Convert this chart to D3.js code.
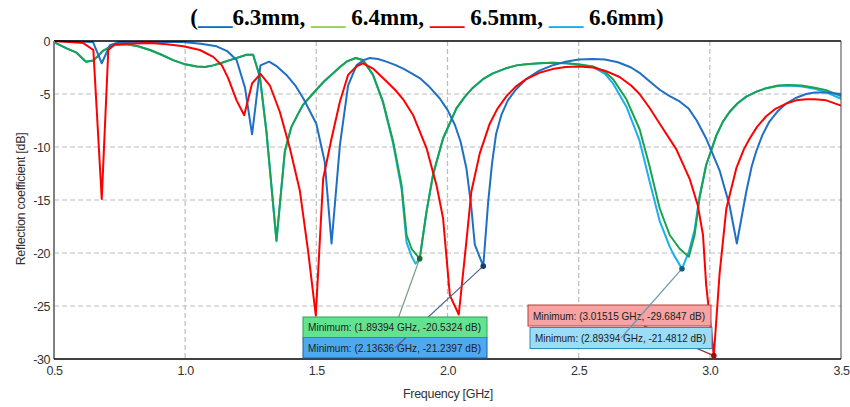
<!DOCTYPE html>
<html>
<head>
<meta charset="utf-8">
<script src="https://cdn.jsdelivr.net/npm/d3@7"></script>
<style>
  body { margin: 0; background: #fff; }
  svg { display: block; }
  .tick text { font-family: "Liberation Sans", Arial, sans-serif; font-size: 12.5px; fill: #333; }
</style>
</head>
<body>
<svg id="chart" width="850" height="407"></svg>
<script>
// plain hyphen for negative numbers, like the original
d3.formatDefaultLocale({ decimal: ".", thousands: ",", grouping: [3], currency: ["$", ""], minus: "-" });

// series names and colours
const seriesNames = ["6.3mm", "6.4mm", "6.5mm", "6.6mm"];
const legendColors = ["#0070C0", "#92D050", "#FF0000", "#00B0F0"];

// [frequency GHz, reflection dB]
const s63 = [[0.5, 0], [0.649, -0.1], [0.682, -2.1], [0.713, -0.4], [0.75, -0.1], [0.99, -0.1], [1.06, -0.25], [1.12, -0.5], [1.16, -0.95], [1.196, -1.8], [1.228, -4.4], [1.255, -8.8], [1.287, -2.3], [1.32, -1.95], [1.35, -2.4], [1.386, -3.2], [1.42, -4.2], [1.45, -5.4], [1.5, -7.8], [1.532, -11.4], [1.558, -19.1], [1.59, -9.8], [1.621, -4.2], [1.653, -2.3], [1.68, -1.8], [1.704, -1.6], [1.735, -1.7], [1.767, -1.95], [1.8, -2.25], [1.831, -2.6], [1.86, -3.0], [1.894, -3.5], [1.93, -4.3], [1.97, -5.4], [2.0, -6.5], [2.028, -7.9], [2.05, -9.5], [2.072, -12], [2.09, -15.5], [2.104, -19.2], [2.13636, -21.2397], [2.155, -15.2], [2.17, -11.5], [2.185, -8.8], [2.205, -7.0], [2.23, -5.6], [2.26, -4.6], [2.3, -3.6], [2.35, -2.8], [2.4, -2.3], [2.45, -1.95], [2.5, -1.75], [2.555, -1.7], [2.6, -1.75], [2.65, -2.0], [2.7, -2.5], [2.732, -3.0], [2.77, -3.8], [2.809, -4.6], [2.847, -5.2], [2.885, -5.7], [2.92, -6.4], [2.95, -7.5], [2.986, -9.2], [3.01, -10.6], [3.037, -12.2], [3.075, -15.5], [3.103, -19.1], [3.139, -14.2], [3.16, -11.8], [3.177, -10.4], [3.2, -8.9], [3.227, -7.6], [3.26, -6.6], [3.291, -5.9], [3.33, -5.35], [3.367, -5.0], [3.4, -4.85], [3.444, -4.85], [3.5, -5.0]];

const s64 = [[0.5, -0.1], [0.548, -0.7], [0.586, -1.1], [0.622, -1.95], [0.65, -1.85], [0.688, -0.9], [0.726, -0.4], [0.777, -0.3], [0.82, -0.5], [0.866, -0.85], [0.91, -1.3], [0.954, -1.8], [1.0, -2.2], [1.044, -2.4], [1.075, -2.45], [1.107, -2.3], [1.14, -2.05], [1.17, -1.8], [1.234, -1.3], [1.259, -1.3], [1.285, -3.4], [1.31, -8.6], [1.348, -18.8], [1.38, -10.4], [1.405, -8.1], [1.43, -6.9], [1.45, -6.0], [1.5, -4.6], [1.53, -3.8], [1.564, -3.05], [1.59, -2.45], [1.615, -1.95], [1.65, -1.6], [1.678, -1.8], [1.716, -3.2], [1.754, -5.7], [1.793, -9.5], [1.825, -13.6], [1.844, -18.3], [1.863, -19.6], [1.89394, -20.5324], [1.92, -16.1], [1.945, -12.6], [1.983, -9.2], [2.034, -6.35], [2.065, -5.3], [2.097, -4.4], [2.135, -3.6], [2.173, -3.05], [2.22, -2.6], [2.263, -2.3], [2.3, -2.2], [2.351, -2.1], [2.4, -2.05], [2.453, -2.1], [2.5, -2.2], [2.555, -2.4], [2.6, -2.9], [2.631, -3.6], [2.682, -5.5], [2.732, -8.3], [2.77, -11.8], [2.809, -15.8], [2.847, -18.3], [2.885, -19.6], [2.92, -20.35], [2.942, -18.3], [2.961, -14.8], [2.986, -11.7], [3.025, -8.9], [3.05, -7.6], [3.075, -6.7], [3.105, -5.9], [3.139, -5.25], [3.18, -4.75], [3.215, -4.45], [3.26, -4.2], [3.3, -4.15], [3.35, -4.2], [3.4, -4.4], [3.444, -4.65], [3.5, -5.2]];

const s65 = [[0.5, 0], [0.612, -0.2], [0.65, -0.85], [0.682, -14.9], [0.707, -0.85], [0.732, -0.3], [0.866, -0.2], [0.93, -0.3], [0.993, -0.5], [1.056, -0.85], [1.107, -1.5], [1.14, -2.3], [1.164, -3.5], [1.196, -5.6], [1.225, -7.0], [1.255, -4.0], [1.287, -3.1], [1.323, -4.2], [1.361, -6.7], [1.399, -10.1], [1.437, -14.1], [1.469, -19.9], [1.498, -25.9], [1.526, -13], [1.558, -9.2], [1.59, -5.7], [1.621, -3.2], [1.653, -2.4], [1.678, -2.1], [1.716, -2.6], [1.767, -3.8], [1.8, -4.6], [1.831, -5.5], [1.869, -7.0], [1.92, -10.1], [1.958, -13.6], [1.983, -16.7], [2.009, -24], [2.043, -25.8], [2.072, -18.9], [2.091, -14.2], [2.123, -10.6], [2.161, -7.8], [2.19, -6.4], [2.225, -5.2], [2.26, -4.3], [2.3, -3.6], [2.35, -3.0], [2.4, -2.65], [2.45, -2.45], [2.5, -2.4], [2.555, -2.5], [2.6, -2.8], [2.656, -3.4], [2.7, -4.2], [2.732, -5.0], [2.77, -6.3], [2.809, -7.8], [2.872, -10.2], [2.923, -13], [2.954, -15.5], [2.974, -18.3], [2.986, -23], [3.01515, -29.6847], [3.037, -22], [3.063, -15.8], [3.101, -12], [3.13, -10.2], [3.152, -9.2], [3.18, -8.1], [3.215, -7.1], [3.25, -6.4], [3.291, -5.9], [3.33, -5.6], [3.367, -5.5], [3.4, -5.5], [3.444, -5.6], [3.5, -6.1]];

const s66 = [[0.5, -0.1], [0.548, -0.7], [0.586, -1.1], [0.622, -1.95], [0.65, -1.85], [0.688, -0.9], [0.726, -0.4], [0.777, -0.3], [0.82, -0.5], [0.866, -0.85], [0.91, -1.3], [0.954, -1.8], [1.0, -2.2], [1.044, -2.4], [1.075, -2.45], [1.107, -2.3], [1.14, -2.05], [1.17, -1.8], [1.234, -1.3], [1.259, -1.3], [1.285, -3.4], [1.31, -8.6], [1.348, -18.9], [1.38, -10.4], [1.405, -8.1], [1.43, -6.9], [1.45, -6.0], [1.5, -4.6], [1.53, -3.8], [1.564, -3.05], [1.59, -2.45], [1.615, -1.95], [1.65, -1.6], [1.678, -1.8], [1.716, -3.2], [1.754, -5.8], [1.793, -9.7], [1.825, -14.0], [1.844, -19.0], [1.863, -20.3], [1.878, -21.0], [1.89394, -20.6], [1.92, -16.1], [1.945, -12.6], [1.983, -9.2], [2.034, -6.35], [2.065, -5.3], [2.097, -4.4], [2.135, -3.6], [2.173, -3.05], [2.22, -2.6], [2.263, -2.3], [2.3, -2.2], [2.351, -2.1], [2.4, -2.05], [2.453, -2.1], [2.5, -2.25], [2.555, -2.45], [2.6, -3.1], [2.631, -4.0], [2.682, -6.2], [2.732, -9.4], [2.77, -13.2], [2.809, -17.0], [2.847, -19.4], [2.863, -20.2], [2.89394, -21.4812], [2.92, -19.9], [2.942, -17.8], [2.961, -14.6], [2.986, -11.7], [3.025, -8.9], [3.05, -7.6], [3.075, -6.7], [3.105, -5.9], [3.139, -5.25], [3.18, -4.75], [3.215, -4.45], [3.26, -4.25], [3.3, -4.2], [3.35, -4.3], [3.4, -4.5], [3.444, -4.85], [3.5, -5.45]];

// marked minima (6.4, 6.3, 6.5, 6.6)
const minFreq = [1.89394, 2.13636, 3.01515, 2.89394];
const minDb = [-20.5324, -21.2397, -29.6847, -21.4812];

// tick labels
const xTicks = [0.5, 1.0, 1.5, 2.0, 2.5, 3.0, 3.5];
const yTicks = [0, -5, -10, -15, -20, -25, -30];

const plotLeft = 54, plotRight = 841, plotTop = 41, plotBottom = 359;
const svg = d3.select("#chart");

const x = d3.scaleLinear().domain([0.5, 3.5]).range([plotLeft, plotRight]);
const y = d3.scaleLinear().domain([-30, 0]).range([plotBottom, plotTop]);

// title with coloured dashes
const title = svg.append("text")
  .attr("x", 427)
  .attr("y", 25)
  .attr("text-anchor", "middle")
  .style("font-family", "'Liberation Serif', 'Times New Roman', serif")
  .style("font-weight", "bold")
  .style("font-size", "23px")
  .style("fill", "#000");
title.append("tspan").text("(");
seriesNames.forEach((name, i) => {
  title.append("tspan").style("fill", legendColors[i]).text("___");
  const sep = i === seriesNames.length - 1 ? ")" : ", ";
  title.append("tspan").text((i === 0 ? "" : " ") + name + sep);
});

// grid
const grid = svg.append("g").attr("class", "grid");
grid.selectAll("line.gx")
  .data(xTicks.slice(1, -1))
  .join("line")
  .attr("class", "gx")
  .attr("x1", (d) => x(d))
  .attr("x2", (d) => x(d))
  .attr("y1", plotTop)
  .attr("y2", plotBottom);
grid.selectAll("line.gy")
  .data(yTicks.slice(1, -1))
  .join("line")
  .attr("class", "gy")
  .attr("x1", plotLeft)
  .attr("x2", plotRight)
  .attr("y1", (d) => y(d))
  .attr("y2", (d) => y(d));
grid.selectAll("line")
  .style("stroke", "#bdbdbd")
  .style("stroke-width", 1.2)
  .style("stroke-dasharray", "5,3");

// axes
const xAxis = svg.append("g")
  .attr("transform", `translate(0, ${plotBottom})`)
  .call(d3.axisBottom(x).tickValues(xTicks).tickFormat(d3.format(".1f")).tickSize(0).tickPadding(7));
xAxis.select(".domain").remove();
xAxis.selectAll("text").style("letter-spacing", "-0.4px");

const yAxis = svg.append("g")
  .attr("transform", `translate(${plotLeft}, 0)`)
  .call(d3.axisLeft(y).tickValues(yTicks).tickFormat(d3.format("d")).tickSize(0).tickPadding(4));
yAxis.select(".domain").remove();
yAxis.selectAll("text").style("letter-spacing", "-0.4px");

// curves
const series = [
  { data: s66, color: "#1ab0ec" },
  { data: s64, color: "#1ba24f" },
  { data: s63, color: "#1f6fc4" },
  { data: s65, color: "#ff0000" }
];
const line = d3.line().x((d) => x(d[0])).y((d) => y(d[1]));
const plot = svg.append("g");
series.forEach((s) => {
  plot.append("path")
    .datum(s.data)
    .attr("d", line)
    .style("fill", "none")
    .style("stroke", s.color)
    .style("stroke-width", 2)
    .style("stroke-linejoin", "round");
});

// frame
const frame = svg.append("g");
frame.append("line").attr("x1", plotLeft).attr("x2", plotRight).attr("y1", plotTop).attr("y2", plotTop)
  .style("stroke", "#000").style("stroke-width", 1.3);
frame.append("line").attr("x1", plotRight).attr("x2", plotRight).attr("y1", plotTop).attr("y2", plotBottom)
  .style("stroke", "#444").style("stroke-width", 1);
frame.append("line").attr("x1", plotLeft).attr("x2", plotLeft).attr("y1", plotTop).attr("y2", plotBottom)
  .style("stroke", "#808080").style("stroke-width", 2);
frame.append("line").attr("x1", plotLeft).attr("x2", plotRight).attr("y1", plotBottom).attr("y2", plotBottom)
  .style("stroke", "#000").style("stroke-width", 1.5);

// minimum markers with boxes
const boxes = [
  { x: 303, y: 317, w: 184, h: 20.5, fill: "#62e38f", stroke: "#2f9e55", lineColor: "#6f9c80", dot: "#176b35" },
  { x: 303, y: 337.5, w: 184, h: 20.5, fill: "#4ea9f1", stroke: "#1d5c9c", lineColor: "#4a6690", dot: "#173f6b" },
  { x: 528, y: 305, w: 183, h: 21, fill: "#f6a3a3", stroke: "#c03a3a", lineColor: "#a03030", dot: "#9a0d0d" },
  { x: 530, y: 327.5, w: 182, h: 21, fill: "#9bdcf7", stroke: "#2a8db3", lineColor: "#6d98ac", dot: "#15607a" }
];
const fmt = d3.format(".4f");
const note = svg.append("g");
const drawOrder = [1, 0, 2, 3];
drawOrder.forEach((i) => {
  const b = boxes[i];
  const cx = b.x + b.w / 2, cy = b.y + b.h / 2;
  const px = x(minFreq[i]), py = y(minDb[i]);
  note.append("rect")
    .attr("x", b.x).attr("y", b.y).attr("width", b.w).attr("height", b.h)
    .style("fill", b.fill).style("stroke", b.stroke).style("stroke-width", 1);
  note.append("text")
    .attr("x", b.x + 5)
    .attr("y", cy + 4)
    .attr("textLength", b.w - 11)
    .attr("lengthAdjust", "spacingAndGlyphs")
    .style("font-family", "'Liberation Sans', Arial, sans-serif")
    .style("font-size", "10.5px")
    .style("fill", "#222")
    .text(`Minimum: (${d3.format(".5f")(minFreq[i])} GHz, ${fmt(minDb[i])} dB)`);
  const leader = note.append("line")
    .attr("x1", cx).attr("y1", cy).attr("x2", px).attr("y2", py)
    .style("stroke", b.lineColor).style("stroke-width", 1.2);
  if (i === 0 || i === 2) {
    // leader starts at the box edge
    const edgeY = py < cy ? b.y : b.y + b.h;
    leader.attr("x1", cx + (px - cx) * (edgeY - cy) / (py - cy)).attr("y1", edgeY);
  }
  note.append("circle")
    .attr("cx", px).attr("cy", py).attr("r", 2.8)
    .style("fill", b.dot);
});

// axis titles
svg.append("text")
  .attr("x", 448)
  .attr("y", 398)
  .attr("text-anchor", "middle")
  .style("font-family", "'Liberation Sans', Arial, sans-serif")
  .style("font-size", "12.5px")
  .style("letter-spacing", "-0.3px")
  .style("fill", "#333")
  .text("Frequency [GHz]");
svg.append("text")
  .attr("transform", "translate(25, 199) rotate(-90)")
  .attr("text-anchor", "middle")
  .style("font-family", "'Liberation Sans', Arial, sans-serif")
  .style("font-size", "12.5px")
  .style("letter-spacing", "-0.3px")
  .style("fill", "#333")
  .text("Reflection coefficient [dB]");
</script>
</body>
</html>
